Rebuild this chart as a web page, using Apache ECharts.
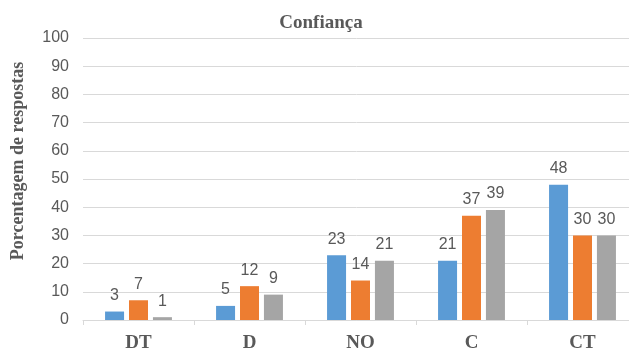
<!DOCTYPE html>
<html>
<head>
<meta charset="utf-8">
<script src="https://cdn.jsdelivr.net/npm/echarts@6/dist/echarts.min.js"></script>
<style>
  html, body { margin: 0; padding: 0; background: #fff; }
  #chart { width: 629px; height: 356px; }
</style>
</head>
<body>
<div id="chart"></div>
<script>
// Survey answers on confidence, percentage per answer category
const categories = ['DT', 'D', 'NO', 'C', 'CT'];
const serieA = [3, 5, 23, 21, 48];
const serieB = [7, 12, 14, 37, 30];
const serieC = [1, 9, 21, 39, 30];
const yTicks = { min: 0, max: 100, interval: 10 };

const serif = '"Liberation Serif", "DejaVu Serif", serif';
const sans = '"Liberation Sans", "DejaVu Sans", sans-serif';
const textGray = '#595959';

function barSeries(name, data, color) {
  return {
    name: name,
    type: 'bar',
    data: data,
    barWidth: 19,
    barGap: '26%',
    itemStyle: { color: color },
    label: {
      show: true,
      position: 'top',
      distance: 8,
      color: textGray,
      fontFamily: sans,
      fontSize: 16
    }
  };
}

const chart = echarts.init(document.getElementById('chart'), null, { renderer: 'canvas' });
chart.setOption({
  animation: false,
  title: {
    text: 'Confiança',
    left: 316,
    top: 9,
    textAlign: 'center',
    textStyle: { fontFamily: serif, fontWeight: 'bold', fontSize: 19, color: textGray }
  },
  graphic: [{
    type: 'text',
    x: 18,
    y: 161,
    rotation: Math.PI / 2,
    style: {
      text: 'Porcentagem de respostas',
      fontFamily: serif,
      fontWeight: 'bold',
      fontSize: 18,
      fill: textGray,
      align: 'center',
      verticalAlign: 'middle'
    }
  }],
  grid: { left: 83, top: 38, width: 555, bottom: 36, outerBoundsMode: 'none', containLabel: false },
  xAxis: {
    type: 'category',
    data: categories,
    axisLine: { lineStyle: { color: '#d9d9d9', width: 1 } },
    axisTick: { show: true, length: 5, lineStyle: { color: '#d9d9d9' } },
    axisLabel: {
      margin: 14,
      fontFamily: serif,
      fontWeight: 'bold',
      fontSize: 19,
      color: textGray
    }
  },
  yAxis: {
    type: 'value',
    min: yTicks.min,
    max: yTicks.max,
    interval: yTicks.interval,
    axisLine: { show: false },
    axisTick: { show: false },
    axisLabel: { margin: 14, fontFamily: sans, fontSize: 16, color: textGray },
    splitLine: { lineStyle: { color: '#d9d9d9', width: 1 } }
  },
  series: [
    barSeries('A', serieA, '#5b9bd5'),
    barSeries('B', serieB, '#ed7d31'),
    barSeries('C', serieC, '#a5a5a5')
  ]
});
</script>
</body>
</html>
